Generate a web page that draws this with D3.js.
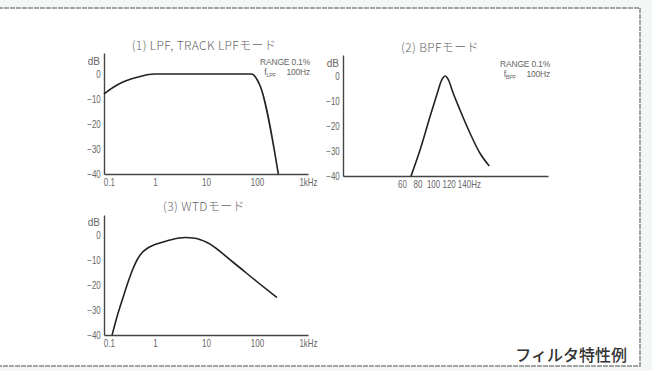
<!DOCTYPE html>
<html>
<head>
<meta charset="utf-8">
<script src="https://cdn.jsdelivr.net/npm/d3@7"></script>
<style>
  body { margin: 0; background: #f2f7f6; }
  svg { display: block; }
  .tick text, .unit { font-family: "Liberation Sans", sans-serif; font-size: 10px; fill: #666; }
  .title { font-family: "Noto Sans CJK JP", sans-serif; font-size: 12px; fill: #666; font-weight: 300; letter-spacing: 0.4px; }
  .note { font-family: "Liberation Sans", sans-serif; font-size: 8.5px; fill: #666; letter-spacing: -0.2px; }
</style>
</head>
<body>
<svg id="chart" width="652" height="371"></svg>
<script>
// (1) LPF, TRACK LPF
const lpfFreq = [0.1, 0.15, 0.235, 0.35, 0.51, 0.7, 1, 78, 90, 100, 115, 262];
const lpfDb = [-8, -5.4, -3.2, -1.9, -1.0, -0.3, 0, 0, -0.8, -2.2, -4.7, -40];
// (2) BPF
const bpfFreq = [71.6, 83.2, 96, 106.7, 110, 113, 115.4, 118, 121, 124, 134.7, 147.6, 160.4, 172.4];
const bpfDb = [-40, -29.6, -16.3, -5.6, -2.4, -0.6, 0, -0.6, -2.4, -5.2, -13.6, -22.9, -30.9, -36];
// (3) WTD
const wtdFreq = [0.144, 0.18, 0.236, 0.3, 0.37, 0.45, 0.55, 0.7, 0.9, 1.25, 1.97, 3.9, 6.1, 10.5, 34, 100, 246];
const wtdDb = [-40, -32.7, -25, -18.5, -13.5, -9.8, -7.2, -5.4, -4.2, -3.2, -2, -1, -1.3, -3, -10.9, -18.7, -25];

const dbTicks = [0, -10, -20, -30, -40];
const logTicks = [0.1, 1, 10, 100, 1000];
const logTickLabels = ["0.1", "1", "10", "100", "1kHz"];
const bpfTicks = [60, 80, 100, 120, 140];
const bpfTickLabels = ["60", "80", "100", "120", "140Hz"];

const svg = d3.select("#chart");

// paper frame
svg.append("rect")
  .attr("x", -2).attr("y", 8).attr("width", 642).attr("height", 358)
  .attr("fill", "#fff")
  .attr("stroke", "#888")
  .attr("stroke-width", 1.5)
  .attr("stroke-dasharray", "5,1");

function panel(opts) {
  const g = svg.append("g");
  const x = opts.x, y = opts.y;

  // y axis
  const yAxis = g.append("g")
    .attr("transform", `translate(${x.range()[0]},0)`)
    .call(d3.axisLeft(y).tickValues(dbTicks).tickSize(0).tickPadding(4));
  // x axis
  const xAxis = g.append("g")
    .attr("transform", `translate(0,${y(-40)})`)
    .call(d3.axisBottom(x).tickValues(opts.ticks).tickSize(0).tickPadding(5)
      .tickFormat((d, i) => opts.labels[i]));

  [yAxis, xAxis].forEach(a => a.select(".domain").attr("stroke", "#444").attr("stroke-width", 1.4));
  // narrow type like the original print
  g.selectAll(".tick text").attr("transform", "scale(0.8,1)");
  xAxis.selectAll(".tick text").each(function(d, i) {
    if (opts.firstStart && i === 0) d3.select(this).attr("text-anchor", "start").attr("dx", -1);
    if (opts.lastStart && i === opts.ticks.length - 1) d3.select(this).attr("text-anchor", "start").attr("dx", "-0.85em");
  });

  g.append("text")
    .attr("class", "unit")
    .attr("x", x.range()[0] - 4).attr("y", y(0) - 9)
    .attr("text-anchor", "end")
    .text("dB");

  const line = d3.line()
    .x(d => x(d[0]))
    .y(d => y(d[1]))
    .curve(d3.curveMonotoneX);

  g.append("path")
    .datum(d3.zip(opts.freq, opts.db))
    .attr("fill", "none")
    .attr("stroke", "#222")
    .attr("stroke-width", 1.6)
    .attr("d", line);

  g.append("text")
    .attr("class", "title")
    .attr("x", opts.titleX).attr("y", y(0) - 24)
    .attr("text-anchor", "middle")
    .text(opts.title);

  if (opts.note) {
    const n = g.append("g").attr("transform", `translate(${opts.noteX},${y(0) - 9})`);
    n.append("text").attr("class", "note").attr("text-anchor", "end").text("RANGE 0.1%");
    const t = n.append("text").attr("class", "note").attr("text-anchor", "end").attr("y", 10);
    t.append("tspan").text("f");
    t.append("tspan").attr("font-size", "5.5px").attr("dy", 1.5).text(opts.note);
    t.append("tspan").attr("dy", -1.5).text("\u2003 100Hz");
  }
}

panel({
  x: d3.scaleLog().domain([0.1, 1000]).range([104, 308]),
  y: d3.scaleLinear().domain([-40, 8.4]).range([174, 53]),
  ticks: logTicks, labels: logTickLabels, firstStart: true,
  freq: lpfFreq, db: lpfDb,
  title: "(1) LPF, TRACK LPFモード", titleX: 204,
  note: "LPF", noteX: 310
});

panel({
  x: d3.scaleLinear().domain([-16, 248]).range([343, 548]),
  y: d3.scaleLinear().domain([-40, 8.4]).range([176, 55]),
  ticks: bpfTicks, labels: bpfTickLabels, lastStart: true,
  freq: bpfFreq, db: bpfDb,
  title: "(2) BPFモード", titleX: 440,
  note: "BPF", noteX: 550
});

panel({
  x: d3.scaleLog().domain([0.1, 1000]).range([104, 308]),
  y: d3.scaleLinear().domain([-40, 8]).range([335, 215]),
  ticks: logTicks, labels: logTickLabels, firstStart: true,
  freq: wtdFreq, db: wtdDb,
  title: "(3) WTDモード", titleX: 204
});

svg.append("text")
  .attr("x", 627).attr("y", 361)
  .attr("text-anchor", "end")
  .style("font-family", "Noto Sans CJK JP, sans-serif")
  .style("font-size", "16px")
  .style("font-weight", 500)
  .style("fill", "#333")
  .text("フィルタ特性例");
</script>
</body>
</html>
